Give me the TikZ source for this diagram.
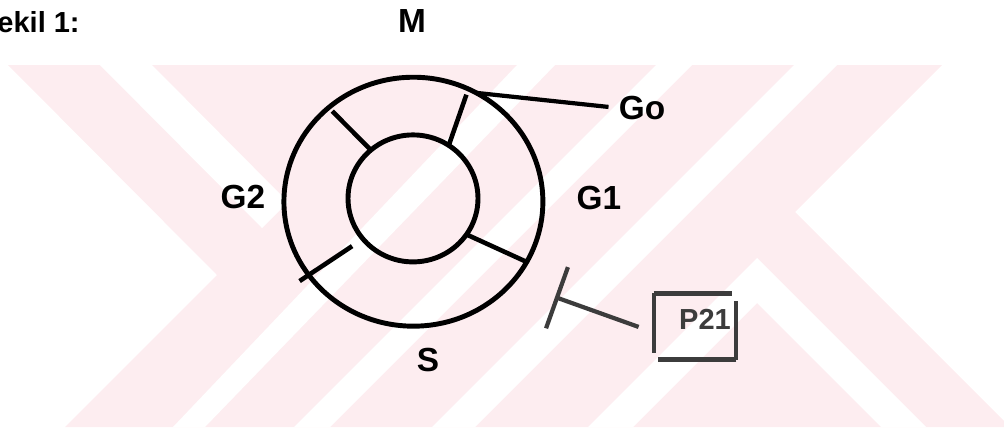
\documentclass[tikz,border=0pt]{standalone}
\usepackage{fontspec}
\setmainfont{Liberation Sans}
\usetikzlibrary{shapes.geometric, arrows.meta}
\definecolor{wmpink}{RGB}{253,237,240}
\definecolor{hatchgray}{RGB}{60,60,60}

\begin{document}
\begin{tikzpicture}[
    x=0.02cm, y=-0.02cm,
    every node/.style={font=\bfseries\fontsize{19}{19}\selectfont, inner sep=0pt},
    ring/.style={ellipse, draw, line width=2.8pt, outer sep=0pt},
    spoke/.style={line width=2.6pt},
    lead/.style={line width=2.4pt},
    plate/.style={draw=hatchgray, line width=2.4pt}
]

\useasboundingbox (0,0) rectangle (1004,430);

% Watermark of the scanned page
\fill[wmpink] (8,65) -- (942,65) -- (795,212) -- (1010,427) -- (65,427) -- (217,275) -- cycle;
\fill[white] (100,65) -- (152,65) -- (288,202) -- (262,228) -- cycle; % gap, upper left
\fill[white] (517,65) -- (555,65) -- (205,427) -- (173,427) -- cycle; % gap 1
\fill[white] (656,65) -- (692,65) -- (330,427) -- (294,427) -- cycle; % gap 2
\fill[white] (794,65) -- (837,65) -- (475,427) -- (432,427) -- cycle; % gap 3
\fill[white] (588,427) -- (757,258) -- (926,427) -- (881,427) -- (757,303) -- (633,427) -- cycle; % gap, lower right

% Rings
\node[ring, minimum width=5.18cm, minimum height=4.98cm] (outer) at (413.4,201.7) {};
\node[ring, minimum width=2.6cm, minimum height=2.54cm] (inner) at (413,198.4) {};

% Spokes
\draw[spoke, shorten >=0.1cm] (inner.131) -- (outer.132);
\draw[spoke, shorten >=0.12cm] (inner.56) -- (outer.64);
\draw[spoke] (inner.-34) -- (outer.-28);
\draw[spoke, shorten <=0.26cm, shorten >=-0.22cm] (inner.219) -- (outer.215);

% Labels
\node[anchor=base east, font=\bfseries\fontsize{16.5}{16.5}\selectfont] (title) at (80,32) {ekil 1:};
\node (M) at (412,21) {M};
\node (G2) at (243,197) {G2};
\node (G1) at (599,198) {G1};
\node (S) at (428,360) {S};
\node (Go) at (642,108) {Go};
\draw[lead, shorten >=0.2cm] (outer.60) -- (Go.west);

% P21 plate and its stem
\node[text=hatchgray, font=\bfseries\fontsize{16.5}{16.5}\selectfont] (P21) at (705,319) {P21};
\node[minimum width=1.64cm, minimum height=1.31cm] (plate) at (695,326.5) {};
\draw[plate] (plate.north west) -- ([xshift=-0.08cm]plate.north east); % top
\draw[plate] ([yshift=-0.16cm]plate.north east) -- (plate.south east); % right
\draw[plate] (plate.south east) -- ([xshift=0.08cm]plate.south west); % bottom
\draw[plate] ([yshift=0.14cm]plate.south west) -- (plate.north west); % left
\coordinate (tbar) at (555,297);
\draw[plate, -{Bar[width=1.3cm]}, shorten <=0.32cm] (plate.188) -- (tbar);

\end{tikzpicture}
\end{document}
